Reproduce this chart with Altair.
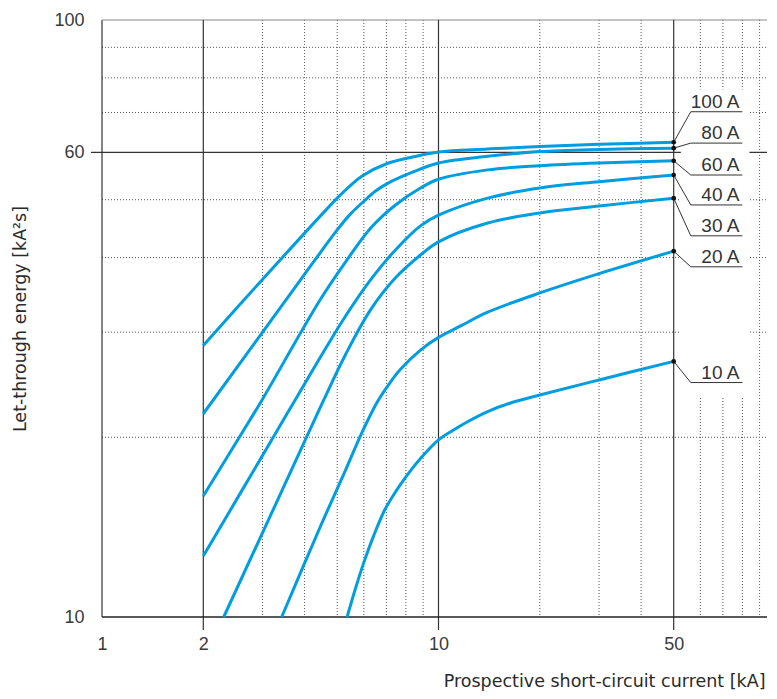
import altair as alt
import pandas as pd

# ---------------- data ----------------
ratings = ["100 A", "80 A", "60 A", "40 A", "30 A", "20 A", "10 A"]

x_100 = [2, 2.99, 5.0, 5.47, 5.93, 7.04, 8.44, 10.0, 14.0, 20.0, 30.0, 50]
y_100 = [28.5, 36.7, 50.3, 52.8, 54.8, 57.5, 59.0, 60.1, 60.8, 61.4, 61.9, 62.4]

x_80 = [2, 3.89, 5.0, 5.47, 6.0, 6.5, 7.04, 8.44, 10.0, 14.0, 20.0, 30.0, 50]
y_80 = [21.9, 36.7, 44.5, 47.3, 49.7, 51.7, 53.2, 55.7, 57.6, 59.1, 60.2, 60.7, 61.0]

x_60 = [2, 2.6, 2.99, 4.45, 5.29, 6.28, 7.45, 8.84, 10.0, 14.0, 20.0, 30.0, 50]
y_60 = [15.95, 20.3, 23.1, 34.0, 39.3, 44.8, 49.0, 52.3, 54.1, 56.1, 57.0, 57.6, 58.1]

x_40 = [2, 3.27, 3.75, 4.45, 5.29, 6.28, 7.45, 8.84, 10.0, 14.0, 20.0, 30.0, 50]
y_40 = [12.65, 20.25, 23.1, 27.2, 31.9, 36.7, 41.2, 45.2, 47.1, 50.3, 52.3, 53.6, 55.0]

x_30 = [2.3, 4.07, 4.56, 5.29, 6.28, 7.45, 8.84, 10.0, 14.0, 20.0, 30.0, 50]
y_30 = [10, 20.1, 23.1, 27.5, 32.7, 37.0, 40.4, 42.5, 45.7, 47.5, 48.8, 50.3]

x_20 = [3.42, 4.45, 5.29, 5.93, 6.57, 7.2, 7.71, 8.84, 10.0, 11.6, 14.0, 20.0, 30.0, 50]
y_20 = [10, 14.15, 17.6, 20.4, 22.9, 24.75, 26.0, 28.0, 29.4, 30.7, 32.4, 34.9, 37.6, 41.0]

x_10 = [5.35, 5.66, 5.99, 6.41, 6.92, 7.45, 8.07, 8.84, 10.0, 11.08, 12.31, 14.0, 16.38, 20.0, 30.0, 50]
y_10 = [10, 11.14, 12.31, 13.66, 15.11, 16.2, 17.29, 18.43, 19.8, 20.57, 21.3, 22.09, 22.83, 23.54, 24.95, 26.8]

# label anchors (data units) for the callouts
label_y = [70.2, 62.2, 55.0, 49.0, 43.5, 38.6, 24.7]
leader_x = [50, 56.2, 80]

x_ticks = [1, 2, 10, 50]
y_ticks = [10, 60, 100]
major_x = [2, 10, 50]
minor_x = [3, 4, 5, 6, 7, 8, 9, 20, 30, 40, 60, 70, 80, 90, 100]
major_y = [60]
minor_y = [20, 30, 40, 50, 70, 80, 90]
mask_x = [52.5, 84.0]
mask_y = [23.4, 76.5]

W, H = 673, 597
BLUE = "#009ee0"
TICK_FONT = "Liberation Sans"
TITLE_FONT = "DejaVu Sans"

# ---------------- tables ----------------
xs = [x_100, x_80, x_60, x_40, x_30, x_20, x_10]
ys = [y_100, y_80, y_60, y_40, y_30, y_20, y_10]
rows = []
for r, xx, yy in zip(ratings, xs, ys):
    for i, (a, b) in enumerate(zip(xx, yy)):
        rows.append({"rating": r, "x": a, "y": b, "i": i})
curves = pd.DataFrame(rows)

ends = pd.DataFrame({"rating": ratings, "x": [xx[-1] for xx in xs], "y": [yy[-1] for yy in ys],
                     "ly": label_y, "lx": [leader_x[2]] * len(ratings)})
lead_rows = []
for r, xx, yy, ly in zip(ratings, xs, ys, label_y):
    lead_rows.append({"rating": r, "x": leader_x[0], "y": yy[-1], "i": 0})
    lead_rows.append({"rating": r, "x": leader_x[1], "y": ly, "i": 1})
    lead_rows.append({"rating": r, "x": leader_x[2], "y": ly, "i": 2})
leaders = pd.DataFrame(lead_rows)

xs_ = alt.Scale(type="log", domain=[1, 100], nice=False)
ys_ = alt.Scale(type="log", domain=[10, 100], nice=False)

x_axis = alt.Axis(
    values=x_ticks, labelExpr="datum.value", ticks=False, domain=False, grid=False,
    labelFlush=False, labelFont=TICK_FONT, labelFontSize=18, labelColor="#3a3a3a",
    labelPadding=18, title="Prospective short-circuit current [kA]",
    titleFont=TITLE_FONT, titleFontSize=17.5, titleFontWeight="normal", titleColor="#2a2a2a",
    titleX=W - 10, titleY=69, titleAlign="right", titleBaseline="alphabetic",
)
y_axis = alt.Axis(
    values=y_ticks, labelExpr="datum.value", ticks=False, domain=False, grid=False,
    labelFlush=False, labelFont=TICK_FONT, labelFontSize=18, labelColor="#3a3a3a",
    labelPadding=18, title="Let-through energy [kA²s]",
    titleFont=TITLE_FONT, titleFontSize=17.5, titleFontWeight="normal", titleColor="#2a2a2a",
    titleX=-82, titleY=H / 2, titleAlign="center", titleBaseline="middle", titleAngle=-90,
)


def X(field="x:Q"):
    return alt.X(field, scale=xs_, axis=x_axis)


def Y(field="y:Q"):
    return alt.Y(field, scale=ys_, axis=y_axis)


# ---------------- grid ----------------
minor_v = alt.Chart(pd.DataFrame({"x": minor_x})).mark_rule(
    color="#555", strokeWidth=1, strokeDash=[1, 2]
).encode(x=X())

minor_h = alt.Chart(pd.DataFrame({"y": minor_y})).mark_rule(
    color="#555", strokeWidth=1, strokeDash=[1, 2]
).encode(y=Y())

major_v = alt.Chart(pd.DataFrame({"x": major_x})).mark_rule(
    color="#333", strokeWidth=1.2
).encode(x=X(), y=alt.value(0), y2=alt.value(H + 13))

major_h = alt.Chart(pd.DataFrame({"y": major_y})).mark_rule(
    color="#333", strokeWidth=1.2
).encode(y=Y(), x=alt.value(-11), x2=alt.value(W + 4))

left_border = alt.Chart(pd.DataFrame({"x": [1]})).mark_rule(
    color="#333", strokeWidth=1.2
).encode(x=X())

top_border = alt.Chart(pd.DataFrame({"y": [100]})).mark_rule(
    color="#888", strokeWidth=1.2
).encode(y=Y())

bottom_border = alt.Chart(pd.DataFrame({"y": [10]})).mark_rule(
    color="#222", strokeWidth=1.5
).encode(y=Y())

mask = alt.Chart(pd.DataFrame({"x": [mask_x[0]], "x2": [mask_x[1]],
                               "y": [mask_y[0]], "y2": [mask_y[1]]})).mark_rect(
    color="white"
).encode(x=X(), x2="x2:Q", y=Y(), y2="y2:Q")

# ---------------- curves ----------------
lines = alt.Chart(curves).mark_line(
    color=BLUE, strokeWidth=3, interpolate="catmull-rom"
).encode(x=X(), y=Y(), detail="rating:N", order="i:Q")

lead = alt.Chart(leaders).mark_line(color="#333", strokeWidth=1).encode(
    x=X(), y=Y(), detail="rating:N", order="i:Q"
)

dots = alt.Chart(ends).mark_circle(color="#111", size=22, opacity=1).encode(x=X(), y=Y())

texts = alt.Chart(ends).mark_text(
    font=TICK_FONT, fontSize=19, color="#333", align="right", baseline="alphabetic", dy=-4, dx=-3
).encode(x=X("lx:Q"), y=Y("ly:Q"), text="rating:N")

chart = alt.layer(
    minor_v, minor_h, left_border, top_border, major_v, major_h, bottom_border,
    mask, lines, lead, dots, texts,
).properties(
    width=W, height=H,
    autosize=alt.AutoSizeParams(type="none"),
    padding={"left": 94, "top": 12, "right": -8, "bottom": 74},
).configure_view(stroke=None)

chart.save("out.html", embed_options={"renderer": "svg", "actions": False})
